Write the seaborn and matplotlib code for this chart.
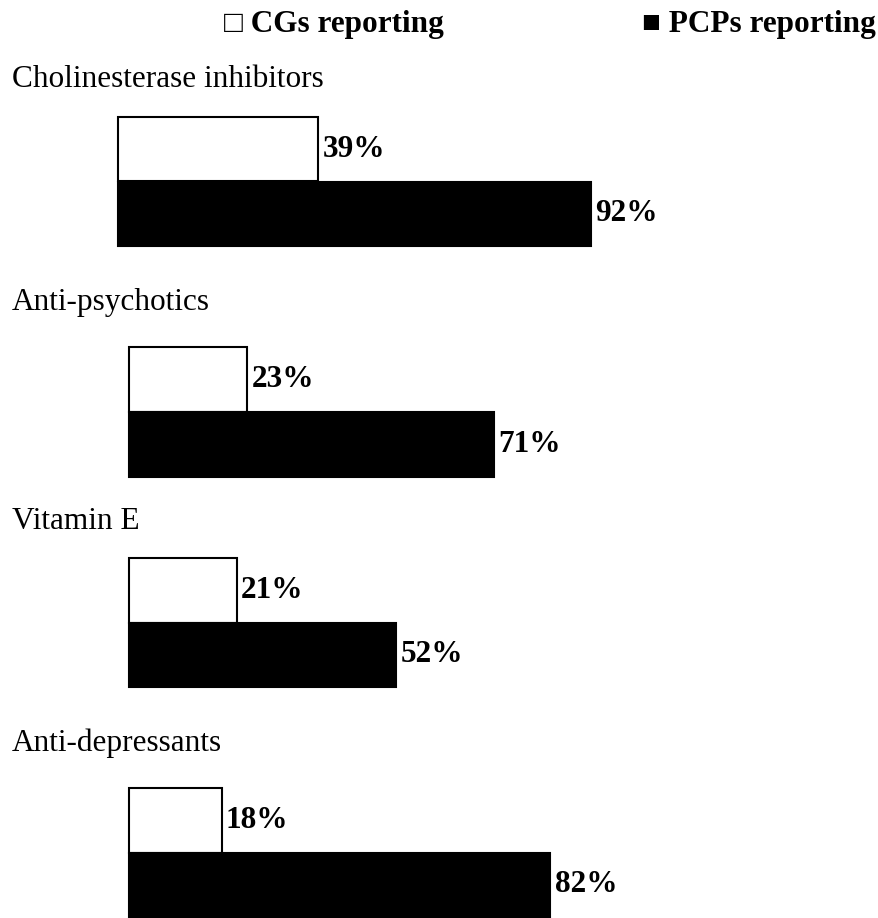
import matplotlib.pyplot as plt
import pandas as pd
import seaborn as sns

# Data
drug_classes = ["Cholinesterase inhibitors", "Anti-psychotics", "Vitamin E", "Anti-depressants"]
groups = ["CGs reporting", "PCPs reporting"]
cg_pct = [39, 23, 21, 18]
pcp_pct = [92, 71, 52, 82]

sns.set_style("white")
plt.rcParams['font.family'] = ['Liberation Serif', 'DejaVu Serif']
plt.rcParams['text.color'] = 'black'

W, H = 879, 918
fig = plt.figure(figsize=(W / 100, H / 100), dpi=100)

# one small axes per drug class (left, top, bottom in pixels)
boxes = [(118, 117, 246), (129, 347, 477), (129, 558, 687), (129, 788, 917)]
title_baselines = [87, 310, 529, 751]
px_per_pct = 5.14
fs = 22.5

for i, drug in enumerate(drug_classes):
    left, top, bottom = boxes[i]
    ax = fig.add_axes([left / W, 1 - bottom / H, 100 * px_per_pct / W, (bottom - top) / H])
    df = pd.DataFrame({"group": groups, "pct": [cg_pct[i], pcp_pct[i]]})
    sns.barplot(data=df, x="pct", y="group", hue="group",
                palette={"CGs reporting": "white", "PCPs reporting": "black"},
                width=1.0, edgecolor="black", linewidth=1.5, legend=False, ax=ax)
    ax.set_xlim(0, 100)
    for c in ax.containers:
        ax.bar_label(c, fmt="%g%%", padding=3, fontsize=fs, fontweight="bold", color="black")
    for p in ax.patches:
        p.set_clip_on(False)
    ax.axis("off")

    fig.text(12 / W, 1 - title_baselines[i] / H, drug, fontsize=fs, va="baseline", color="black")

# legend drawn as text with square glyphs
fig.text(224 / W, 1 - 32 / H, "\u25a1 CGs reporting", fontsize=fs, fontweight="bold",
         va="baseline", color="black")
fig.text(642 / W, 1 - 32 / H, "\u25a0 PCPs reporting", fontsize=fs, fontweight="bold",
         va="baseline", color="black")

plt.savefig("out.png", dpi=100)
